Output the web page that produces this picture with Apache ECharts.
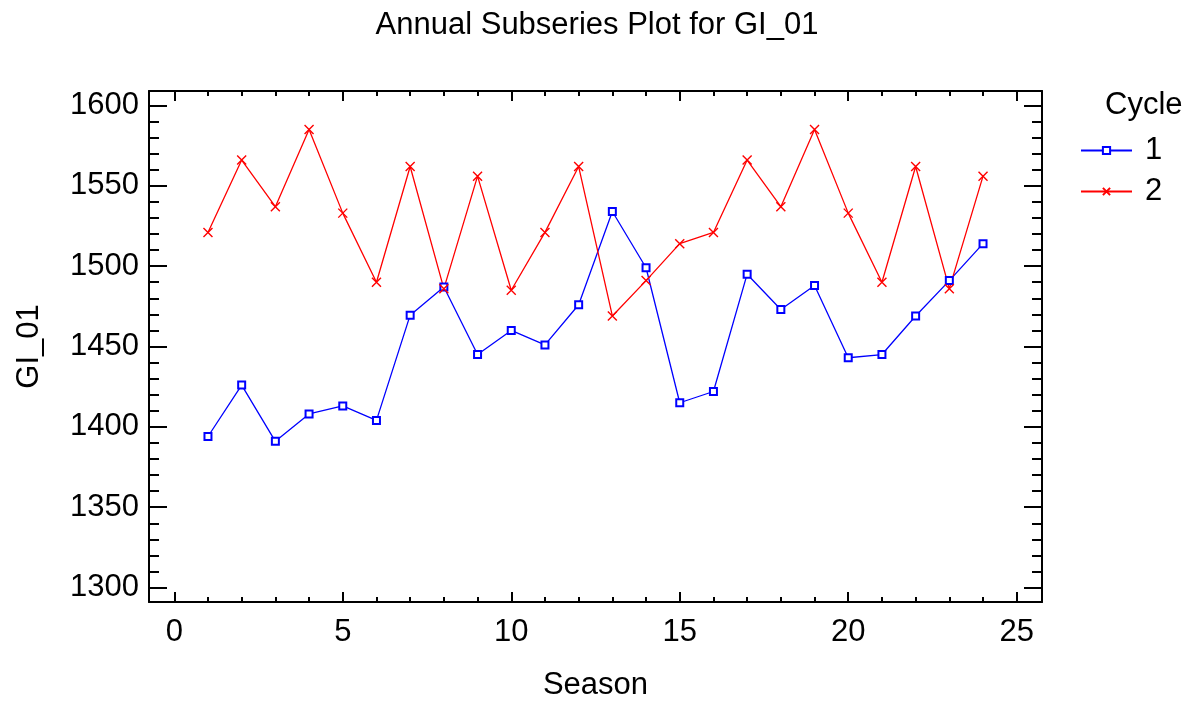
<!DOCTYPE html>
<html>
<head>
<meta charset="utf-8">
<script src="https://cdn.jsdelivr.net/npm/echarts@6/dist/echarts.min.js"></script>
<style>
html, body { margin: 0; padding: 0; background: #fff; }
#main { width: 1194px; height: 706px; }
</style>
</head>
<body>
<div id="main"></div>
<script>
var seasons = [1,2,3,4,5,6,7,8,9,10,11,12,13,14,15,16,17,18,19,20,21,22,23,24];
var cycle1 = [1394,1426,1391,1408,1413,1404,1469.5,1487,1445,1460,1451,1476,1534,1499,1415,1422,1495,1473,1488,1443,1445,1469,1491,1514];
var cycle2 = [1521,1566,1537,1585,1533,1490,1562,1486,1556,1485,1521,1562,1469,1491,1514,1521,1566,1537,1585,1533,1490,1562,1486,1556];
var xMajor = [0,5,10,15,20,25];
var xMinor = [0,1,2,3,4,5,6,7,8,9,10,11,12,13,14,15,16,17,18,19,20,21,22,23,24,25];
var yMajor = [1300,1350,1400,1450,1500,1550,1600];
var yMinor = [];
for (var v = 1300; v <= 1600; v += 10) yMinor.push(v);

function pairs(xs, ys) {
	return xs.map(function (x, i) { return [x, ys[i]]; });
}

var fontFam = 'Liberation Sans, Arial, sans-serif';
var fs = 31;
var lineBlk = { color: '#000', width: 2 };

function xAx(pos, ticks, len, showLine, showLabel) {
	return {
		type: 'value', position: pos, min: -0.75, max: 25.75,
		axisLine: { show: showLine, onZero: false, lineStyle: lineBlk },
		axisTick: { show: true, inside: true, length: len, customValues: ticks, lineStyle: { color: '#000', width: 2 } },
		axisLabel: { show: showLabel, customValues: ticks, fontSize: fs, color: '#000', fontFamily: fontFam, margin: 15,
			formatter: function (v) { return String(v); } },
		splitLine: { show: false }
	};
}
function yAx(pos, ticks, len, showLine, showLabel) {
	return {
		type: 'value', position: pos, min: 1291, max: 1609,
		axisLine: { show: showLine, onZero: false, lineStyle: lineBlk },
		axisTick: { show: true, inside: true, length: len, customValues: ticks, lineStyle: { color: '#000', width: 2 } },
		axisLabel: { show: showLabel, customValues: ticks, fontSize: fs, color: '#000', fontFamily: fontFam, margin: 10,
			formatter: function (v) { return String(v); } },
		splitLine: { show: false }
	};
}

var xBottom = xAx('bottom', xMajor, 10, true, true);
xBottom.name = 'Season';
xBottom.nameLocation = 'middle';
xBottom.nameGap = 68;
xBottom.nameTextStyle = { fontSize: fs, color: '#000', fontFamily: fontFam };

var yLeft = yAx('left', yMajor, 18, true, true);
yLeft.name = 'GI_01';
yLeft.nameLocation = 'middle';
yLeft.nameGap = 104;
yLeft.nameTextStyle = { fontSize: fs, color: '#000', fontFamily: fontFam };

var chart = echarts.init(document.getElementById('main'));
var option = {
	backgroundColor: '#fff',
	animation: false,
	title: [
		{ text: 'Annual Subseries Plot for GI_01', left: 'center', top: 5,
		  textStyle: { fontSize: fs, fontWeight: 'normal', color: '#000', fontFamily: fontFam } },
		{ text: 'Cycle', left: 1100, top: 85,
		  textStyle: { fontSize: fs, fontWeight: 'normal', color: '#000', fontFamily: fontFam } }
	],
	legend: {
		orient: 'vertical', left: 1075, top: 130,
		itemWidth: 51, itemHeight: 9, itemGap: 10,
		textStyle: { fontSize: fs, color: '#000', fontFamily: fontFam, padding: [0, 0, 0, 8] },
		data: ['1', '2']
	},
	grid: { left: 149, top: 91, right: 152, bottom: 97, containLabel: false },
	xAxis: [
		xBottom,
		xAx('bottom', xMinor, 5, false, false),
		xAx('top', xMajor, 10, true, false),
		xAx('top', xMinor, 5, false, false)
	],
	yAxis: [
		yLeft,
		yAx('left', yMinor, 10, false, false),
		yAx('right', yMajor, 18, true, false),
		yAx('right', yMinor, 10, false, false)
	],
	series: [
		{
			name: '1', type: 'line', data: pairs(seasons, cycle1),
			symbol: 'emptyRect', symbolSize: 7,
			color: '#0000ff',
			lineStyle: { color: '#0000ff', width: 1.3 },
			itemStyle: { color: '#0000ff', borderColor: '#0000ff', borderWidth: 1.3 }
		},
		{
			name: '2', type: 'line', data: pairs(seasons, cycle2),
			symbol: 'path://M0,0L10,10M10,0L0,10', symbolSize: 9,
			color: '#ff0000',
			lineStyle: { color: '#ff0000', width: 1.3 },
			itemStyle: { color: '#ff0000', borderColor: '#ff0000', borderWidth: 1.4 }
		}
	]
};
chart.setOption(option);
</script>
</body>
</html>
